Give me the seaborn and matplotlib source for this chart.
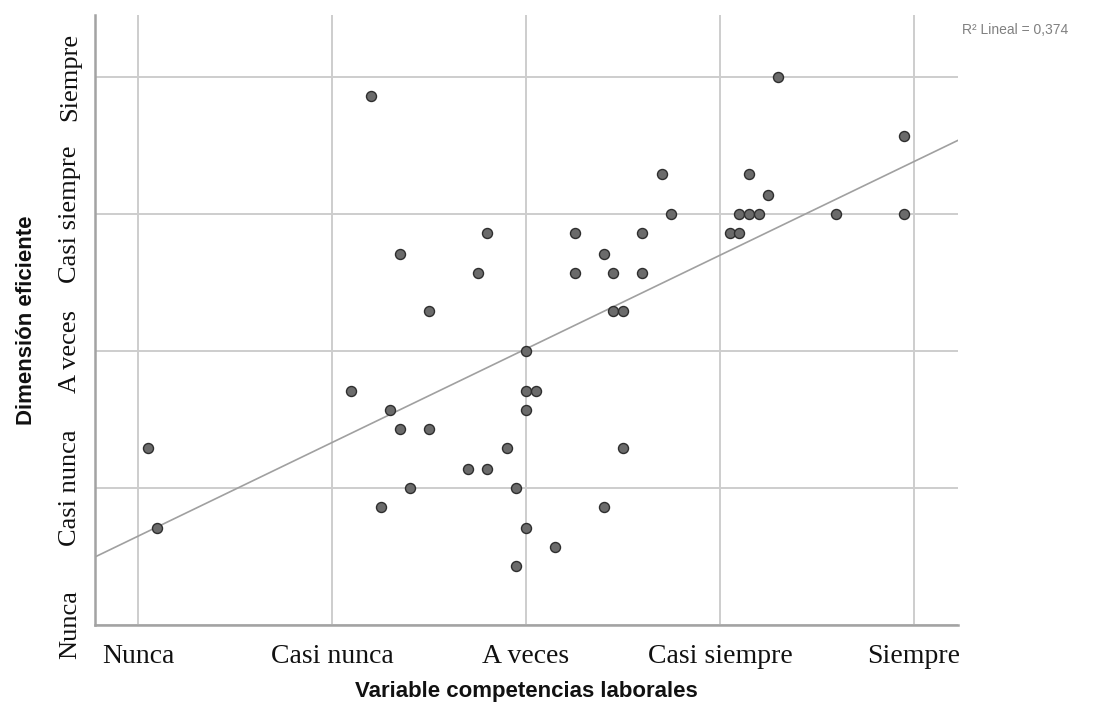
import numpy as np
import pandas as pd
import matplotlib
matplotlib.use("Agg")
import matplotlib.pyplot as plt
import seaborn as sns

# --- data (1 = Nunca ... 5 = Siempre) ---
competencias = [1.05, 1.10, 2.20, 2.10, 2.35, 2.30, 2.35, 2.50, 2.50, 2.25,
                2.40, 2.70, 2.80, 2.75, 2.80, 2.90, 2.95, 2.95, 3.00, 3.00,
                3.05, 3.00, 3.00, 3.15, 3.25, 3.25, 3.40, 3.45, 3.45, 3.50,
                3.50, 3.40, 3.60, 3.60, 3.70, 3.75, 4.05, 4.10, 4.10, 4.15,
                4.20, 4.15, 4.25, 4.30, 4.60, 4.95, 4.95]
eficiente = [2.29, 1.71, 4.86, 2.71, 3.71, 2.57, 2.43, 3.29, 2.43, 1.86,
             2.00, 2.14, 2.14, 3.57, 3.86, 2.29, 2.00, 1.43, 3.00, 2.71,
             2.71, 2.57, 1.71, 1.57, 3.86, 3.57, 3.71, 3.57, 3.29, 3.29,
             2.29, 1.86, 3.86, 3.57, 4.29, 4.00, 3.86, 3.86, 4.00, 4.00,
             4.00, 4.29, 4.14, 5.00, 4.00, 4.57, 4.00]
levels = [1, 2, 3, 4, 5]
x_labels = ["Nunca", "Casi nunca", "A veces", "Casi siempre", "Siempre"]
y_labels = ["Nunca", "Casi nunca", "A veces", "Casi siempre", "Siempre"]
x_title = "Variable competencias laborales"
y_title = "Dimensión eficiente"
r2_text = "R² Lineal = 0,374"

sns.set_theme(style="white")
plt.rcParams['font.family'] = ['Liberation Sans', 'DejaVu Sans']

W, H = 1098, 702
fig = plt.figure(figsize=(W / 100, H / 100), dpi=100)
ax = fig.add_axes([95 / W, 1 - 625 / H, (958 - 95) / W, (625 - 15) / H])
xlim = (0.778, 5.227)
ylim = (1.0, 5.453)
ax.set_xlim(xlim)
ax.set_ylim(ylim)

df = pd.DataFrame({"competencias": competencias, "eficiente": eficiente})
sns.regplot(data=df, x="competencias", y="eficiente", ax=ax, ci=None,
            truncate=False, color="#6b6b6b",
            scatter_kws=dict(s=52, edgecolor="#2e2e2e", linewidths=1.0,
                             alpha=1, zorder=3),
            line_kws=dict(color="#a0a0a0", linewidth=1.2, zorder=2))
ax.set_xlim(xlim)
ax.set_ylim(ylim)

ax.set_xticks(levels)
ax.set_yticks(levels)
ax.set_xticklabels(x_labels, fontfamily="Liberation Serif", fontsize=20,
                   color="#111111")
ax.set_yticklabels(y_labels, fontfamily="Liberation Serif", fontsize=19,
                   color="#111111", rotation=90, va="center")
ax.tick_params(axis="x", length=0, pad=14)
ax.tick_params(axis="y", length=0, pad=10)
ax.grid(True, color="#cdcdcd", linewidth=1.4)
ax.set_axisbelow(True)

for s in ["top", "right"]:
    ax.spines[s].set_visible(False)
for s in ["left", "bottom"]:
    ax.spines[s].set_color("#a3a3a3")
    ax.spines[s].set_linewidth(1.8)

ax.set_xlabel(x_title, fontsize=16, fontweight="bold", color="#111111",
              labelpad=8)
ax.set_ylabel(y_title, fontsize=16, fontweight="bold", color="#111111",
              labelpad=16)

fig.text(962 / W, 1 - 30 / H, r2_text, fontsize=10, color="#808080",
         ha="left", va="center")

fig.savefig("out.png", dpi=100)
